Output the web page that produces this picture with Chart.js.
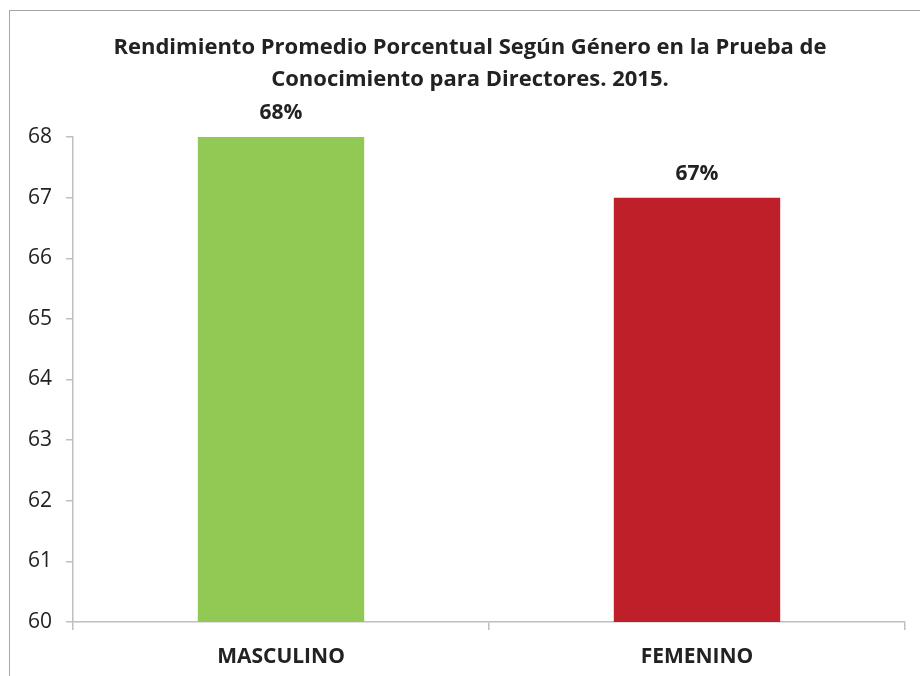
<!DOCTYPE html>
<html>
<head>
<meta charset="utf-8">
<script src="https://cdn.jsdelivr.net/npm/chart.js@4"></script>
<style>
html,body{margin:0;padding:0;background:#fff;}
#wrap{position:relative;width:920px;height:676px;}
#frame{position:absolute;left:9px;top:10px;width:920px;height:700px;border-left:1.5px solid #a6a6a6;border-top:1.5px solid #a6a6a6;pointer-events:none;}
</style>
</head>
<body>
<div id="wrap">
<canvas id="c" width="920" height="676"></canvas>
<div id="frame"></div>
</div>
<script>
const categories = ["MASCULINO", "FEMENINO"];
const values = [68, 67];
const valueLabels = ["68%", "67%"];
const barColors = ["#92C955", "#BF1F28"];
const titleLines = ["Rendimiento Promedio Porcentual Según Género en la Prueba de", "Conocimiento para Directores. 2015."];

const FONT = "'Open Sans', 'Noto Sans', sans-serif";

const titlePlugin = {
  id: 'frameTitle',
  afterDraw(chart) {
    const ctx = chart.ctx;
    ctx.save();
    ctx.font = "bold 22px " + FONT;
    ctx.fillStyle = "#222";
    ctx.textAlign = "center";
    ctx.textBaseline = "alphabetic";
    const cx = chart.width / 2 + 10;
    titleLines.forEach((t, i) => ctx.fillText(t, cx, 54 + i * 32));
    ctx.restore();
  }
};

const labelPlugin = {
  id: 'valueLabels',
  afterDatasetsDraw(chart) {
    const ctx = chart.ctx;
    const meta = chart.getDatasetMeta(0);
    ctx.save();
    ctx.font = "bold 21px " + FONT;
    ctx.fillStyle = "#222";
    ctx.textAlign = "center";
    ctx.textBaseline = "alphabetic";
    meta.data.forEach((bar, i) => {
      ctx.fillText(valueLabels[i], bar.x, bar.y - 18);
    });
    ctx.restore();
  }
};

new Chart(document.getElementById('c'), {
  type: 'bar',
  data: {
    labels: categories,
    datasets: [{
      data: values,
      backgroundColor: barColors,
      borderWidth: 0,
      categoryPercentage: 1,
      barPercentage: 0.4
    }]
  },
  options: {
    responsive: false,
    animation: false,
    layout: { padding: { left: 9, right: 15, top: 137, bottom: 0 } },
    plugins: {
      legend: { display: false },
      tooltip: { enabled: false },
      title: { display: false }
    },
    scales: {
      y: {
        min: 60,
        max: 68,
        ticks: { stepSize: 1, color: "#222", font: { family: FONT, size: 21 }, padding: 14 },
        grid: { display: true, drawOnChartArea: false, tickLength: 7, color: "#bfbfbf", lineWidth: 1.5 },
        border: { display: true, color: "#bfbfbf", width: 1.5 },
        afterFit(scale) { scale.width = 64; }
      },
      x: {
        ticks: { color: "#222", font: { family: FONT, size: 21, weight: 'bold' }, padding: 14 },
        grid: { display: true, drawOnChartArea: false, tickLength: 8, color: "#bfbfbf", lineWidth: 1.5, offset: true },
        border: { display: true, color: "#bfbfbf", width: 1.5 },
        afterFit(scale) { scale.height = 54; }
      }
    }
  },
  plugins: [labelPlugin, titlePlugin]
});
</script>
</body>
</html>
